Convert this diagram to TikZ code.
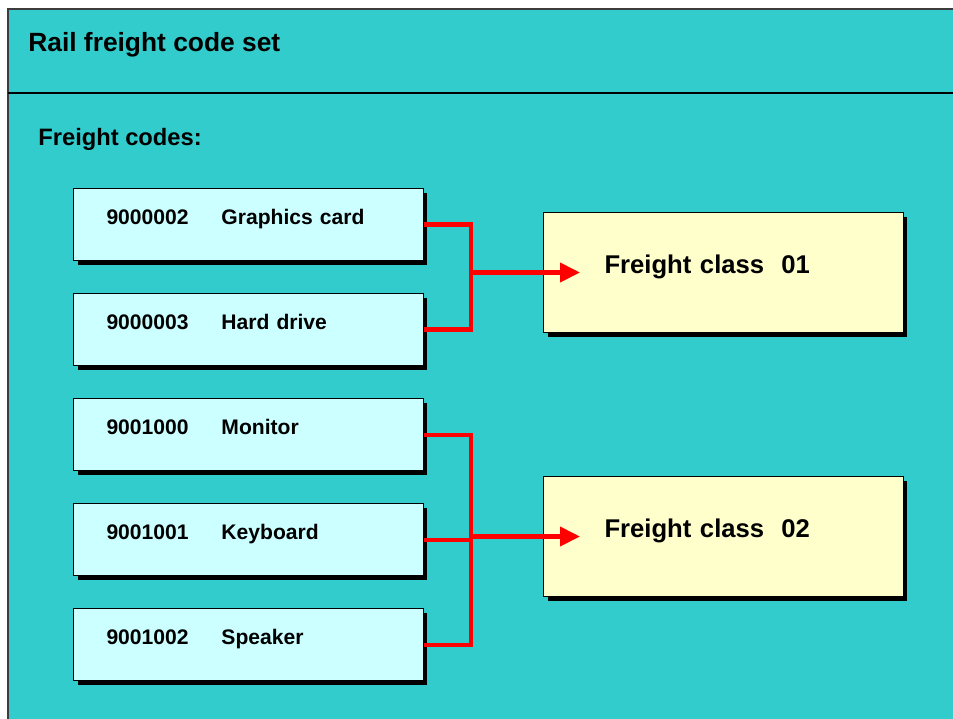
\documentclass[tikz,border=0pt]{standalone}
\usepackage{fontspec}
\setmainfont{Liberation Sans}
\usetikzlibrary{arrows.meta,shadows}
\definecolor{panelfill}{RGB}{51,204,204}
\definecolor{codefill}{RGB}{204,255,255}
\definecolor{classfill}{RGB}{255,255,204}
\definecolor{panelline}{RGB}{60,60,60}
\definecolor{linkred}{RGB}{255,0,0}

\begin{document}
\begin{tikzpicture}[
  x=0.02cm, y=-0.02cm,
  font=\bfseries,
  boxshadow/.style={
    drop shadow={shadow xshift=0.08cm, shadow yshift=-0.08cm,
                 fill=black, opacity=1}
  },
  code/.style={
    boxshadow, draw=black, line width=0.6pt, fill=codefill,
    anchor=north west, minimum width=7cm, minimum height=1.44cm,
    inner xsep=0.66cm, text width=5.68cm, align=left,
    text height=0.3cm, text depth=0.32cm,
    font=\fontsize{12}{14}\selectfont\bfseries
  },
  fclass/.style={
    boxshadow, draw=black, line width=0.6pt, fill=classfill,
    anchor=north west, minimum width=7.2cm, minimum height=2.4cm,
    inner xsep=1.22cm, text width=4.76cm, align=left,
    text height=0.37cm, text depth=0.34cm,
    font=\fontsize{14.6}{17}\selectfont\bfseries
  },
  heading/.style={anchor=base west, inner sep=0pt},
  link/.style={draw=linkred, line width=2.3pt, line join=miter},
  arr/.style={-{Triangle[length=0.4cm, width=0.38cm]}},
]

\useasboundingbox (0,0) rectangle (953,719);

% ---- Panel with title bar ----
\fill[panelfill] (8,9) rectangle (960,725);
\draw[panelline, line width=1pt] (8,725) -- (8,9) -- (960,9);
\draw[black, line width=1.7pt] (8,93) -- (960,93);

\node (title) [heading, font=\fontsize{15}{18}\selectfont\bfseries]
  at (28,52) {Rail freight code set};
\node (codes) [heading, font=\fontsize{13.5}{16}\selectfont\bfseries]
  at (38,146) {Freight codes:};

% ---- Freight codes ----
\newcommand{\codeline}[2]{\makebox[2.3cm][l]{#1}#2}
\node (gfx) [code] at (73,188) {\codeline{9000002}{Graphics card}};
\node (hdd) [code] at (73,293) {\codeline{9000003}{Hard drive}};
\node (mon) [code] at (73,398) {\codeline{9001000}{Monitor}};
\node (kbd) [code] at (73,503) {\codeline{9001001}{Keyboard}};
\node (spk) [code] at (73,608) {\codeline{9001002}{Speaker}};

% ---- Freight classes ----
\node (cls01) [fclass] at (543,212) {Freight class\ \ 01};
\node (cls02) [fclass] at (543,476) {Freight class\ \ 02};

% ---- Links ----
\coordinate (busA) at (471,0);
\coordinate (busB) at (471,0);
\coordinate (tipA) at ([xshift=0.74cm]cls01.west);
\coordinate (tipB) at ([xshift=0.74cm]cls02.west);

\draw[link] (gfx.east) -- (gfx.east -| busA) -- (hdd.east -| busA) -- (hdd.east);
\draw[link, arr] (cls01.west -| busA) -- (tipA);

\draw[link] (mon.east) -- (mon.east -| busB) -- (spk.east -| busB) -- (spk.east);
\draw[link] (kbd.east) -- (kbd.east -| busB);
\draw[link, arr] (cls02.west -| busB) -- (tipB);

\end{tikzpicture}
\end{document}
